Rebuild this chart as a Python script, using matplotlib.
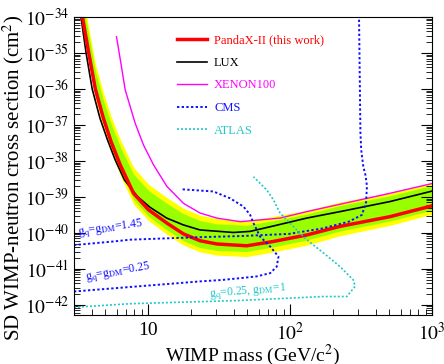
import numpy as np
import matplotlib
matplotlib.use('Agg')
import matplotlib.pyplot as plt
from matplotlib.ticker import FuncFormatter, LogLocator, NullFormatter

plt.rcParams['font.family'] = 'serif'
plt.rcParams['font.serif'] = ['Liberation Serif', 'DejaVu Serif']
plt.rcParams['mathtext.fontset'] = 'stix'
plt.rcParams['axes.unicode_minus'] = False

# all cross sections below are log10(sigma / cm^2)

# PandaX-II limit and expected sensitivity band
pandax_mass = [3.44, 3.81, 4.24, 4.83, 5.48, 6.35, 7.88, 10.05, 13.55, 17.73, 23.2, 30.5, 49.5, 76.2, 131, 225, 506, 1000]
pandax_xs = [-34.0, -35.0, -36.0, -36.81, -37.47, -38.11, -38.90, -39.36, -39.73, -40.03, -40.22, -40.31, -40.36, -40.24, -40.06, -39.82, -39.55, -39.25]
green_hi = [-33.5, -34.5, -35.5, -36.31, -36.97, -37.6, -38.37, -38.82, -39.18, -39.47, -39.66, -39.75, -39.79, -39.66, -39.48, -39.24, -38.97, -38.68]
green_lo = [-34.12, -35.12, -36.13, -36.95, -37.62, -38.27, -39.07, -39.54, -39.92, -40.22, -40.41, -40.49, -40.52, -40.39, -40.2, -39.95, -39.67, -39.37]
yellow_hi = [-33.3, -34.3, -35.3, -36.1, -36.77, -37.4, -38.18, -38.65, -39.02, -39.32, -39.51, -39.6, -39.66, -39.54, -39.37, -39.14, -38.88, -38.62]
yellow_lo = [-34.25, -35.25, -36.26, -37.08, -37.75, -38.4, -39.2, -39.66, -40.04, -40.34, -40.53, -40.62, -40.66, -40.53, -40.34, -40.08, -39.79, -39.48]

# LUX
lux_mass = [3.36, 3.65, 4.03, 4.57, 5.17, 5.85, 6.8, 8.4, 10.3, 13.5, 17.7, 23.2, 39.9, 52.2, 76.2, 131, 225, 506, 1000]
lux_xs = [-34.0, -35.0, -36.0, -36.81, -37.42, -37.97, -38.53, -38.99, -39.29, -39.59, -39.78, -39.92, -39.99, -39.96, -39.81, -39.59, -39.41, -39.13, -38.84]

# XENON100
xe_mass = [5.98, 6.40, 6.89, 8.09, 9.27, 10.9, 13.55, 17.73, 23.2, 30.5, 44.5, 85, 131, 506, 1000]
xe_xs = [-34.55, -35.25, -36.03, -36.95, -37.56, -38.11, -38.71, -39.18, -39.45, -39.59, -39.69, -39.59, -39.41, -38.9, -38.63]

# CMS, g_q = g_DM = 1.45
cms1_mass = [3.0, 5.7, 7.47, 23.2, 44.5, 97.8, 168, 259, 321, 343, 348, 340, 328, 317, 313, 306]
cms1_xs = [-40.34, -40.24, -40.19, -40.12, -40.09, -40.03, -39.88, -39.69, -39.5, -39.15, -38.7, -38.4, -38.16, -37.69, -37.2, -34.0]

# CMS, g_q = g_DM = 0.25
cms2_mass = [3.0, 23.2, 33, 44.5, 58.4, 72.4, 80.5, 82.8, 72.4, 61.3, 55.2, 52.3, 46.9, 37.8, 28.8, 17.3]
cms2_xs = [-41.63, -41.35, -41.31, -41.26, -41.21, -41.12, -40.94, -40.66, -40.38, -40.1, -39.73, -39.5, -39.27, -39.04, -38.85, -38.79]

# ATLAS, g_q = 0.25, g_DM = 1
atlas_mass = [3.0, 7.47, 44.5, 172, 251, 287, 279, 225, 172, 131, 105, 85, 76.2, 68.5, 55.2]
atlas_xs = [-42.07, -41.97, -41.88, -41.77, -41.77, -41.49, -41.31, -40.94, -40.56, -40.19, -39.82, -39.45, -39.08, -38.81, -38.44]

def p(a):
    return 10.0 ** np.array(a)

fig = plt.figure(figsize=(4.44, 3.64), dpi=100)
ax = fig.add_axes([74/444, 1-315/364, (432-74)/444, (315-17)/364])

ax.fill_between(pandax_mass, p(yellow_lo), p(yellow_hi), color='#ffff00', lw=0)
ax.fill_between(pandax_mass, p(green_lo), p(green_hi), color='#99ff00', lw=0)

blue = '#1010ff'
cyan = '#22c8c8'
dots = (0, (1.2, 1.2))
ax.plot(xe_mass, p(xe_xs), color='#ff00ff', lw=1.0, label='XENON100')
ax.plot(lux_mass, p(lux_xs), color='black', lw=1.2, label='LUX')
ax.plot(pandax_mass, p(pandax_xs), color='red', lw=2.5, label='PandaX-II (this work)')
ax.plot(cms1_mass, p(cms1_xs), color=blue, lw=1.4, ls=dots, label='CMS')
ax.plot(cms2_mass, p(cms2_xs), color=blue, lw=1.4, ls=dots)
ax.plot(atlas_mass, p(atlas_xs), color=cyan, lw=1.2, ls=dots, label='ATLAS')

ax.set_xscale('log')
ax.set_yscale('log')
ax.set_xlim(3, 1000)
ax.set_ylim(5.2e-43, 1e-34)

ax.set_yticks([10.0**k for k in range(-42, -33)])
ax.yaxis.set_minor_locator(LogLocator(base=10, subs=np.arange(2, 10), numticks=30))
ax.yaxis.set_minor_formatter(NullFormatter())
ax.set_xticks([10, 100, 1000])
ax.xaxis.set_minor_locator(LogLocator(base=10, subs=np.arange(2, 10), numticks=30))
ax.xaxis.set_minor_formatter(NullFormatter())
fmt = FuncFormatter(lambda v, _: '10' if abs(v - 10) < 1e-9 else r'$10^{%d}$' % round(np.log10(v)))
ax.xaxis.set_major_formatter(fmt)
ax.yaxis.set_major_formatter(fmt)
ax.tick_params(which='both', direction='in', top=False, right=True, labelsize=14)
ax.tick_params(which='major', length=8)
ax.tick_params(which='minor', length=4)
ax.tick_params(axis='x', pad=5)

ax.set_xlabel(r'WIMP mass (GeV/c$^2$)', fontsize=14)
ax.set_ylabel(r'SD WIMP-neutron cross section (cm$^2$)', fontsize=15)
ax.xaxis.set_label_coords(0.5, -0.092)
ax.yaxis.set_label_coords(-0.135, 0.46)

ax.text(5.4, 10**-39.89, r'g$_{\rm q}$=g$_{\rm DM}$=1.45', color=blue, fontsize=8.5,
        rotation=8, ha='center', va='center')
ax.text(6.15, 10**-41.11, r'g$_{\rm q}$=g$_{\rm DM}$=0.25', color=blue, fontsize=8.5,
        rotation=10, ha='center', va='center')
ax.text(50.6, 10**-41.64, r'g$_{\rm q}$=0.25, g$_{\rm DM}$=1', color=cyan, fontsize=8.5,
        rotation=5, ha='center', va='center')

h, l = ax.get_legend_handles_labels()
order = ['PandaX-II (this work)', 'LUX', 'XENON100', 'CMS', 'ATLAS']
hs = [h[l.index(o)] for o in order]
ax.legend(hs, order, loc='upper left', bbox_to_anchor=(171/444, 1-28/364),
          bbox_transform=fig.transFigure, frameon=False, fontsize=9,
          handlelength=2.35, handletextpad=0.6, labelspacing=0.85, borderpad=0,
          labelcolor='linecolor')

fig.savefig('out.png', dpi=100)
